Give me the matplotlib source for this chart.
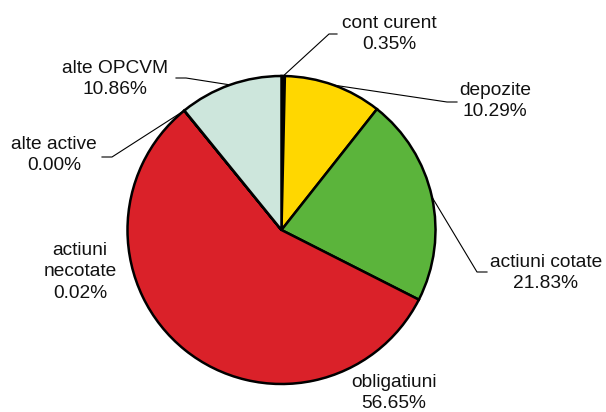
import matplotlib.pyplot as plt
import numpy as np

plt.rcParams['font.family'] = ['Liberation Sans', 'DejaVu Sans']

# date (procente din activ)
categorii = ['cont curent', 'depozite', 'actiuni cotate', 'obligatiuni',
             'actiuni necotate', 'alte active', 'alte OPCVM']
valori = [0.35, 10.29, 21.83, 56.65, 0.02, 0.00, 10.86]
etichete = ['cont curent\n0.35%', 'depozite\n10.29%', 'actiuni cotate\n21.83%',
            'obligatiuni\n56.65%', 'actiuni\nnecotate\n0.02%', 'alte active\n0.00%',
            'alte OPCVM\n10.86%']
culori = ['#000000', '#FFD700', '#5BB43B', '#DA2129', '#DA2129', '#DA2129', '#CDE6DC']

# pozitii etichete in pixeli (centru text) si capatul liniei de legatura
poz_text = [(389, 34), (495, 101), (546, 273), (394, 393), (80, 272), (54, 155), (115, 79)]
capat_linie = [((337, 34), (329, 34)), ((457, 102), (447, 102)), ((487, 272), (477, 272)),
               None, None, ((102, 157), (112, 157)), ((176, 78), (186, 78))]

W, H = 606, 412
cx, cy, R = 281.5, 230, 154.0


def px(x, y):
    return (x - cx) / R, (cy - y) / R


fig = plt.figure(figsize=(W / 100, H / 100), dpi=100)
ax = fig.add_axes([0, 0, 1, 1])
wedges, _ = ax.pie(valori, startangle=90, counterclock=False, colors=culori,
                   wedgeprops=dict(edgecolor='black', linewidth=1.8))
ax.set_aspect('auto')
ax.set_xlim(px(0, 0)[0], px(W, 0)[0])
ax.set_ylim(px(0, H)[1], px(0, 0)[1])
ax.axis('off')

for w, txt, p, cap in zip(wedges, etichete, poz_text, capat_linie):
    tx, ty = px(*p)
    ax.text(tx, ty, txt, ha='center', va='center', fontsize=13.8,
            color='#111111', linespacing=1.38)
    if cap is not None:
        mid = np.deg2rad((w.theta1 + w.theta2) / 2)
        x0, y0 = np.cos(mid), np.sin(mid)
        x1, y1 = px(*cap[1])
        x2, y2 = px(*cap[0])
        ax.plot([x0, x1, x2], [y0, y1, y2], color='black', lw=0.8, zorder=0)

fig.savefig('out.png', dpi=100)
